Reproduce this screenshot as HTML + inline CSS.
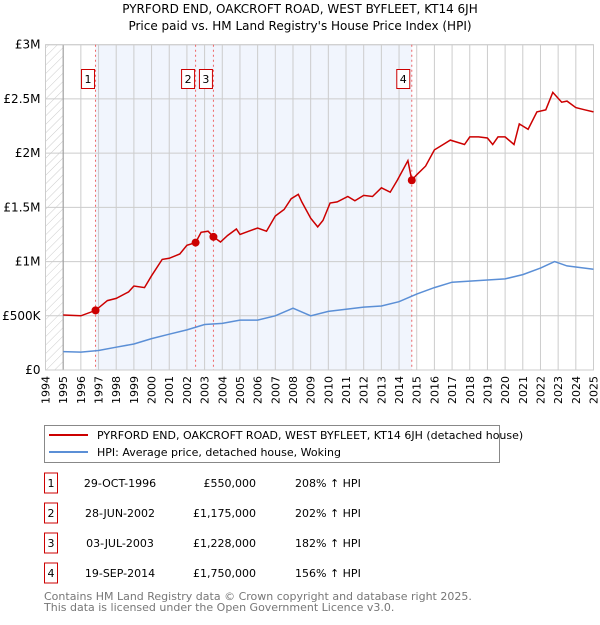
<!DOCTYPE html>
<html><head><meta charset="utf-8"><style>
body{margin:0;background:#fff;}
svg text{font-family:"DejaVu Sans","Liberation Sans",sans-serif;}
</style></head><body>
<svg id="chart" width="600" height="620" xmlns="http://www.w3.org/2000/svg">
<defs>
<pattern id="hatch" width="6" height="6" patternUnits="userSpaceOnUse" patternTransform="rotate(45)">
<line x1="0" y1="0" x2="0" y2="6" stroke="#ccc" stroke-width="1"/></pattern>
</defs>
<text x="300" y="13" text-anchor="middle" font-size="12">PYRFORD END, OAKCROFT ROAD, WEST BYFLEET, KT14 6JH</text>
<text x="300" y="30" text-anchor="middle" font-size="12">Price paid vs. HM Land Registry's House Price Index (HPI)</text>
<g id="plot"></g>
<g>
<rect x="44.5" y="425.5" width="455" height="37" fill="#fff" stroke="#888"/>
<line x1="49" y1="435" x2="88" y2="435" stroke="#cc0000" stroke-width="2"/>
<text x="97" y="439" font-size="11">PYRFORD END, OAKCROFT ROAD, WEST BYFLEET, KT14 6JH (detached house)</text>
<line x1="49" y1="452" x2="88" y2="452" stroke="#5b8fd6" stroke-width="2"/>
<text x="97" y="456" font-size="11">HPI: Average price, detached house, Woking</text>
</g>
<g id="table"></g>
<text x="44" y="600" font-size="11" fill="#777">Contains HM Land Registry data © Crown copyright and database right 2025.</text>
<text x="44" y="611" font-size="11" fill="#777">This data is licensed under the Open Government Licence v3.0.</text>
</svg>
<script>
const years=[1995,1996,1996.83,1997.5,1998,1998.7,1999,1999.6,2000,2000.6,2001,2001.6,2002,2002.49,2002.8,2003.2,2003.5,2003.9,2004.3,2004.8,2005,2005.5,2006,2006.5,2007,2007.5,2007.9,2008.3,2008.5,2009,2009.4,2009.7,2010.1,2010.5,2011.1,2011.5,2012,2012.5,2013,2013.5,2013.9,2014.5,2014.72,2015,2015.5,2016,2016.5,2016.9,2017.7,2018,2018.5,2019,2019.3,2019.6,2020,2020.5,2020.8,2021.3,2021.8,2022.3,2022.7,2023.2,2023.5,2024,2024.5,2025];
const priceM=[0.507,0.50,0.55,0.64,0.66,0.72,0.775,0.76,0.87,1.02,1.03,1.07,1.15,1.175,1.27,1.28,1.228,1.18,1.24,1.30,1.25,1.28,1.31,1.28,1.42,1.48,1.58,1.62,1.55,1.40,1.32,1.38,1.54,1.55,1.60,1.56,1.61,1.60,1.68,1.64,1.75,1.93,1.75,1.80,1.88,2.03,2.08,2.12,2.08,2.15,2.15,2.14,2.08,2.15,2.15,2.08,2.27,2.22,2.38,2.40,2.56,2.47,2.48,2.42,2.40,2.38];
const hpiYears=[1995,1996,1997,1998,1999,2000,2001,2002,2003,2004,2005,2006,2007,2008,2009,2010,2011,2012,2013,2014,2015,2016,2017,2018,2019,2020,2021,2022,2022.8,2023.5,2024,2025];
const hpiM=[0.17,0.165,0.18,0.21,0.24,0.29,0.33,0.37,0.42,0.43,0.46,0.46,0.50,0.57,0.50,0.54,0.56,0.58,0.59,0.63,0.70,0.76,0.81,0.82,0.83,0.84,0.88,0.94,1.00,0.96,0.95,0.93];
const saleYears=[1996.83,2002.49,2003.5,2014.72];
const saleM=[0.55,1.175,1.228,1.75];
const saleLabels=["1","2","3","4"];
const saleDates=["29-OCT-1996","28-JUN-2002","03-JUL-2003","19-SEP-2014"];
const salePrices=["£550,000","£1,175,000","£1,228,000","£1,750,000"];
const saleHpi=["208% ↑ HPI","202% ↑ HPI","182% ↑ HPI","156% ↑ HPI"];
const yTicks=[0,0.5,1,1.5,2,2.5,3];
const yTickLabels=["£0","£500K","£1M","£1.5M","£2M","£2.5M","£3M"];

const NS="http://www.w3.org/2000/svg";
const X0=45.5,X1=593.5,Y0=370,Y1=44.7;
const xs=y=>X0+(y-1994)*(X1-X0)/31;
const ys=v=>Y0-(v/3)*(Y0-Y1);
const plot=document.getElementById('plot');
function mk(tag,attrs,parent){const e=document.createElementNS(NS,tag);for(const k in attrs)e.setAttribute(k,attrs[k]);(parent||plot).appendChild(e);return e;}
let e;
e=mk('rect',{x:X0,y:Y1,width:X1-X0,height:Y0-Y1,fill:'#fff'});


e=mk('rect',{x:X0,y:Y1,width:xs(1995)-X0,height:Y0-Y1,fill:'url(#hatch)'});


e=mk('rect',{x:xs(saleYears[0]),y:Y1,width:xs(saleYears[3])-xs(saleYears[0]),height:Y0-Y1,fill:'#eef3fd',opacity:0.8});


for(let yr=1994;yr<=2025;yr++){
 e=mk('line',{x1:xs(yr),x2:xs(yr),y1:Y1,y2:Y0,stroke:'#ccc','stroke-width':1});
 
 
 e=mk('text',{x:0,y:0,'font-size':11,'text-anchor':'end',transform:`translate(${xs(yr)+4},${Y0+6}) rotate(-90)`});
 e.textContent=yr;
 
 
}
yTicks.forEach((t,i)=>{
 e=mk('line',{x1:X0,x2:X1,y1:ys(t),y2:ys(t),stroke:'#ccc','stroke-width':1});
 
 
 e=mk('text',{x:X0-5,y:ys(t)+4,'font-size':12,'text-anchor':'end'});
 e.textContent=yTickLabels[i];
 
 
});
e=mk('line',{x1:xs(1995),x2:xs(1995),y1:Y1,y2:Y0,stroke:'#999'});


e=mk('rect',{x:X0,y:Y1,width:X1-X0,height:Y0-Y1,fill:'none',stroke:'#ccc'});


saleYears.forEach((s,i)=>{
 e=mk('line',{x1:xs(s),x2:xs(s),y1:Y1,y2:Y0,stroke:'#e66','stroke-width':1,'stroke-dasharray':'2,3'});
 
 
 const bx=xs(s)-(i===3?1:0);
 e=mk('rect',{x:bx-14,y:69.5,width:13,height:19,fill:'#fff',stroke:'#cc0000'});
 
 
 e=mk('text',{x:bx-7.5,y:83,'font-size':11,'text-anchor':'middle'});
 e.textContent=saleLabels[i];
 
 
});
// fix label box positions relative to line (boxes sit left of line by ~7px for most)
e=mk('path',{d:hpiYears.map((y,i)=>(i?'L':'M')+xs(y).toFixed(1)+','+ys(hpiM[i]).toFixed(1)).join(''),fill:'none',stroke:'#5b8fd6','stroke-width':1.5});


e=mk('path',{d:years.map((y,i)=>(i?'L':'M')+xs(y).toFixed(1)+','+ys(priceM[i]).toFixed(1)).join(''),fill:'none',stroke:'#cc0000','stroke-width':1.5});


saleYears.forEach((s,i)=>{
 e=mk('circle',{cx:xs(s),cy:ys(saleM[i]),r:4,fill:'#cc0000'});
 
 
});
const tbl=document.getElementById('table');
saleLabels.forEach((l,i)=>{
 const cy=483+i*30;
 e=mk('rect',{x:44.5,y:cy-10,width:13,height:20,fill:'#fff',stroke:'#cc0000'},tbl);
 
 
 e=mk('text',{x:51,y:cy+4,'font-size':11,'text-anchor':'middle'},tbl);
 e.textContent=l;
 
 
 e=mk('text',{x:120,y:cy+4,'font-size':11,'text-anchor':'middle'},tbl);
 e.textContent=saleDates[i];
 
 
 e=mk('text',{x:256,y:cy+4,'font-size':11,'text-anchor':'end'},tbl);
 e.textContent=salePrices[i];
 
 
 e=mk('text',{x:295,y:cy+4,'font-size':11},tbl);
 e.textContent=saleHpi[i];
 
 
});
</script>
</body></html>
